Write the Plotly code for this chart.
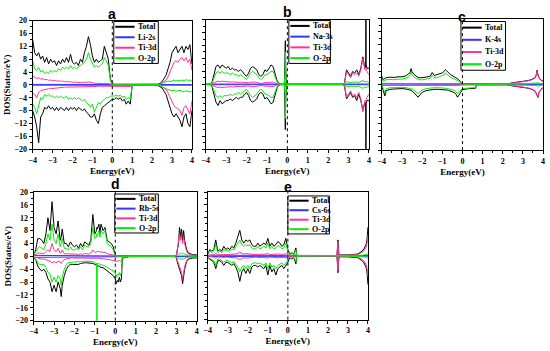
import plotly.graph_objects as go

# ---------------- data: energies (eV) and DOS (states/eV); spin-down stored negative ----------------
E_a = [-4.0,-3.9,-3.8,-3.7,-3.6,-3.5,-3.4,-3.3,-3.2,-3.1,
       -3.0,-2.9,-2.8,-2.7,-2.6,-2.5,-2.4,-2.3,-2.2,-2.1,
       -2.0,-1.9,-1.8,-1.7,-1.6,-1.5,-1.4,-1.3,-1.2,-1.1,
       -1.0,-0.9,-0.8,-0.7,-0.6,-0.5,-0.4,-0.3,-0.2,-0.1,
       0.0,0.1,0.2,0.3,0.4,0.5,0.6,0.7,0.8,0.9,
       1.0,
       2.3,2.4,2.5,2.6,2.7,2.8,2.9,3.0,3.1,3.2,
       3.3,3.4,3.5,3.6,3.7,3.8,3.9,4.0]
a_tot_up = [14,10,9,10,8,9,7,8.5,6.5,8,
            7,7.5,6,7.5,6.5,8,7,8.5,7,9.5,
            7,6.5,7,6,8,7,10,12,15,12.5,
            9,7,8,7,7.5,8,12,10,8,2,
            0.3,0.2,0.2,0.2,0.2,0.2,0.2,0.2,0.2,0.2,
            0.2,
            0.2,0.5,1,2,3,5,7,10,11,12,
            10,11,12,10,12,11,12.5,6.5]
a_tot_dn = [-8,-10,-13,-18,-10,-9,-7,-7.5,-6.5,-7.5,
            -7,-8,-7,-8,-7,-7.5,-8,-7,-8,-7,
            -7.5,-7,-8,-7,-7.5,-8,-7.5,-8.5,-9,-10,
            -10,-9,-11,-12,-9,-7,-6.5,-6,-5.5,-5,
            -4.5,-4.5,-4,-4.5,-4,-5,-4.5,-6,-5,-6,
            -0.2,
            -0.2,-0.5,-1,-2,-3,-5,-7,-9,-10,-9,
            -10,-11,-13,-10,-9,-12,-13,-8]
a_ti_up = [2.8,2.3,2,2.2,1.8,1.9,1.6,1.7,1.4,1.5,
           1.3,1.4,1.2,1.3,1.1,1.2,1.0,1.1,0.9,1.0,
           0.8,0.9,0.8,0.8,0.7,0.8,0.7,0.8,0.9,0.7,
           0.6,0.5,0.5,0.4,0.4,0.4,0.5,0.4,0.3,0.2,
           0.1,0.05,0.05,0.05,0.05,0.05,0.05,0.05,0.05,0.05,
           0.05,
           0.1,0.2,0.5,1,1.5,2.5,4,6,7,7.5,
           7,8,8.5,7.5,8.5,7,8,4.5]
a_ti_dn = [-2.5,-3,-4,-2.5,-1.8,-1.6,-1.4,-1.3,-1.2,-1.2,
           -1.1,-1.0,-0.9,-0.9,-0.8,-0.8,-0.7,-0.7,-0.7,-0.6,
           -0.6,-0.6,-0.5,-0.5,-0.5,-0.5,-0.5,-0.5,-0.5,-0.6,
           -0.5,-0.6,-0.5,-0.4,-0.4,-0.4,-0.4,-0.4,-0.4,-0.4,
           -0.4,-0.4,-0.4,-0.4,-0.4,-0.4,-0.4,-0.5,-0.5,-0.5,
           -0.05,
           -0.1,-0.3,-0.6,-1,-1.5,-2.5,-4,-5.5,-6.5,-7,
           -7.5,-8,-9.5,-7,-6.5,-8,-9,-5]
a_o_up = [7.5,5,4.5,5.5,4,4.5,3.5,4,3.5,4.5,
          4,4.5,4,5,4.5,5.5,5,5.5,5,6,
          5,5.5,5,5.5,6,6.5,7,8,10,8,
          6.5,5.5,6,5.5,6,6.5,8.5,7.5,6,1.5,
          0.1,0.05,0.05,0.05,0.05,0.05,0.05,0.05,0.05,0.05,
          0.05,
          0.1,0.3,0.5,0.8,1,1.2,1,1.3,1.5,1.2,
          1.4,1.2,1.5,1.3,1.6,1.4,1.5,1.2]
a_o_dn = [-6,-7,-9,-6,-4,-4.5,-3,-3.5,-3,-3.5,
          -3.5,-4,-3.5,-4,-3.5,-4,-4,-3.5,-4.5,-4,
          -4.5,-4,-4.5,-4,-4.5,-5,-4.5,-5.5,-6,-7,
          -6,-8.5,-7,-5.5,-6,-5,-4.5,-4,-4,-3.5,
          -3.5,-3.5,-3.2,-3.5,-3.2,-3.8,-3.5,-4.5,-4,-4.5,
          -0.1,
          -0.05,-0.3,-0.6,-1,-1.2,-1.5,-1.6,-1.8,-1.6,-2,
          -1.8,-1.7,-2,-2.2,-1.8,-1.9,-2.2,-2]

E_b = [-4.0,-3.8,-3.7,-3.6,-3.5,-3.4,-3.3,-3.2,-3.1,-3.0,
       -2.9,-2.8,-2.7,-2.6,-2.5,-2.4,-2.3,-2.2,-2.1,-2.0,
       -1.9,-1.8,-1.7,-1.6,-1.5,-1.4,-1.3,-1.2,-1.1,-1.0,
       -0.9,-0.8,-0.7,-0.6,-0.5,-0.4,-0.3,-0.15,-0.12,-0.1,
       -0.08,-0.05,0.0,1.0,2.7,2.8,2.9,3.0,3.1,3.2,
       3.3,3.4,3.5,3.6,3.7,3.8,3.84,3.85,3.86,3.9,
       4.0]
b_tot_up = [0,0,0.5,3,5.5,6,5,6,5.5,5,
            5.5,4.5,5,4.5,4.5,4,4.5,4,3,2.5,
            3.5,5,5.5,5,4.5,3,2.5,3,4.5,4,
            5,6,5.5,3,1,0.2,0,0,5,13.5,
            5,0.5,0,0,0,0.5,4.5,3.5,2.5,4,
            3.5,4.5,3,5,8.5,5,6,25,6,5,
            5]
b_tot_dn = [0,0,-0.5,-3,-5.5,-6.5,-5,-6,-5.5,-5,
            -5,-4.5,-5,-4.5,-4,-4.5,-4,-4,-3,-2.5,
            -3.5,-5,-5.5,-5,-4.5,-3,-2.5,-3,-4.5,-4,
            -5,-6,-5.5,-3,-1,-0.2,0,0,-5,-14,
            -5,-0.5,0,0,0,-0.5,-4.5,-3.5,-2.5,-4,
            -3.5,-5,-3,-5,-8,-5.5,-6,-25,-6,-5,
            -5]
b_ti_up = [0,0,0.1,0.5,0.8,1,0.8,1,0.9,0.8,
           0.9,0.7,0.8,0.7,0.7,0.6,0.7,0.6,0.5,0.4,
           0.5,0.7,0.8,0.7,0.6,0.4,0.3,0.4,0.6,0.5,
           0.6,0.8,0.7,0.4,0.1,0,0,0,0.3,0.8,
           0.3,0,0,0,0,0.3,4,3,2,3.5,
           3,3.5,2.5,4.5,8,4.5,5,5,5,4,
           3]
b_ti_dn = [0,0,-0.1,-0.5,-0.8,-1,-0.8,-1,-0.9,-0.8,
           -0.9,-0.7,-0.8,-0.7,-0.7,-0.6,-0.7,-0.6,-0.5,-0.4,
           -0.5,-0.7,-0.8,-0.7,-0.6,-0.4,-0.3,-0.4,-0.6,-0.5,
           -0.6,-0.8,-0.7,-0.4,-0.1,0,0,0,-0.3,-0.8,
           -0.3,0,0,0,0,-0.3,-4,-3,-2,-3.5,
           -3,-4,-2.5,-4.5,-8.5,-5,-5,-5,-5,-4,
           -3]
b_o_up = [0,0,0.3,2,3.5,4,3.5,4,3.5,3.5,
          3.5,3,3.5,3,3,2.5,3,2.5,2,1.5,
          2.5,3.5,4,3.5,3,2,1.5,2,3,3,
          3.5,4,4,2,0.6,0.1,0,0,3,10,
          3,0.2,0,0,0,0.1,0.8,0.6,0.5,0.7,
          0.6,0.8,0.5,0.9,1.2,0.8,1,1,1,0.8,
          0.7]
b_o_dn = [0,0,-0.3,-2,-3.5,-4,-3.5,-4,-3.5,-3.5,
          -3.5,-3,-3.5,-3,-3,-2.5,-3,-2.5,-2,-1.5,
          -2.5,-3.5,-4,-3.5,-3,-2,-1.5,-2,-3,-3,
          -3.5,-4,-4,-2,-0.6,-0.1,0,0,-3,-10.5,
          -3,-0.2,0,0,0,-0.1,-0.8,-0.6,-0.5,-0.7,
          -0.6,-0.8,-0.5,-0.9,-1.2,-0.8,-1,-1,-1,-0.8,
          -0.7]

E_c = [-4.0,-3.95,-3.9,-3.85,-3.8,-3.6,-3.4,-3.2,-3.0,-2.8,
       -2.7,-2.6,-2.55,-2.5,-2.4,-2.3,-2.2,-2.1,-2.0,-1.8,
       -1.6,-1.5,-1.4,-1.2,-1.0,-0.9,-0.85,-0.8,-0.7,-0.6,
       -0.4,-0.3,-0.25,-0.2,-0.1,-0.05,0.0,0.3,0.65,0.7,
       2.2,2.5,2.8,3.0,3.2,3.4,3.5,3.6,3.65,3.7,
       3.75,3.8,3.9,4.0]
c_tot_up = [2.5,1.5,1.6,1.8,2,2.2,2.1,2.3,2.3,2.6,
            3,3.6,4.8,3.8,3,2.5,2.1,2,2,2.2,
            2.5,3.6,2.7,3,3.5,4,4.5,4.2,3.5,3,
            2.3,2,1.8,1.5,0.8,0.3,0.1,0.1,0.1,0.1,
            0.1,0.5,0.7,0.9,1.1,1.4,1.7,2,2.6,4.3,
            3,2,1.3,1]
c_tot_dn = [-0.5,-1.5,-2.5,-3.5,-2,-1.5,-1.4,-1.3,-1.3,-1.4,
            -1.5,-1.7,-1.8,-2,-2.5,-3.2,-3.9,-3,-2.4,-1.9,
            -1.6,-1.6,-1.5,-1.5,-1.5,-1.6,-1.6,-1.7,-1.8,-2,
            -2.5,-3.2,-3.9,-3.5,-2.6,-2,-1.6,-1.3,-1.2,-0.1,
            -0.1,-0.5,-0.7,-0.9,-1.1,-1.4,-1.7,-2,-2.6,-3.5,
            -4,-2.5,-1.5,-1]
c_ti_up = [0.4,0.3,0.3,0.3,0.3,0.3,0.3,0.3,0.3,0.3,
           0.3,0.3,0.4,0.3,0.3,0.3,0.3,0.3,0.3,0.3,
           0.3,0.3,0.3,0.3,0.3,0.3,0.3,0.3,0.3,0.3,
           0.3,0.3,0.3,0.2,0.1,0.05,0.02,0.02,0.02,0.02,
           0.05,0.4,0.6,0.8,1,1.3,1.6,1.9,2.5,4,
           2.8,1.8,1.2,0.9]
c_ti_dn = [-0.3,-0.3,-0.4,-0.5,-0.3,-0.3,-0.3,-0.3,-0.3,-0.3,
           -0.3,-0.3,-0.3,-0.3,-0.3,-0.3,-0.4,-0.3,-0.3,-0.3,
           -0.3,-0.3,-0.3,-0.3,-0.3,-0.3,-0.3,-0.3,-0.3,-0.3,
           -0.3,-0.3,-0.3,-0.3,-0.2,-0.1,-0.05,-0.05,-0.05,-0.02,
           -0.05,-0.4,-0.6,-0.8,-1,-1.3,-1.6,-1.9,-2.4,-3.2,
           -3.8,-2.3,-1.4,-0.9]
c_o_up = [2,1,1.1,1.2,1.4,1.5,1.4,1.6,1.6,1.9,
          2.2,2.8,3.8,3,2.2,1.8,1.5,1.4,1.4,1.5,
          1.8,2.7,2,2.2,2.6,3,3.5,3.2,2.6,2.2,
          1.6,1.4,1.2,1,0.5,0.2,0.05,0.05,0.05,0.05,
          0.05,0.1,0.15,0.2,0.25,0.3,0.35,0.4,0.5,0.6,
          0.5,0.4,0.3,0.2]
c_o_dn = [-0.3,-1,-1.8,-2.5,-1.4,-1,-1,-0.9,-0.9,-1,
          -1.1,-1.2,-1.3,-1.4,-1.8,-2.3,-2.8,-2.2,-1.7,-1.3,
          -1.1,-1.1,-1,-1,-1,-1.1,-1.1,-1.2,-1.3,-1.4,
          -1.8,-2.3,-2.8,-2.5,-1.9,-1.5,-1.3,-1.1,-1.0,-0.05,
          -0.05,-0.1,-0.15,-0.2,-0.25,-0.3,-0.35,-0.4,-0.5,-0.6,
          -0.6,-0.5,-0.3,-0.2]

E_d = [-4.0,-3.9,-3.8,-3.7,-3.6,-3.5,-3.4,-3.3,-3.2,-3.1,
       -3.0,-2.9,-2.8,-2.7,-2.65,-2.6,-2.5,-2.4,-2.3,-2.2,
       -2.1,-2.0,-1.9,-1.8,-1.7,-1.6,-1.5,-1.4,-1.3,-1.2,
       -1.1,-1.0,-0.92,-0.9,-0.88,-0.8,-0.75,-0.7,-0.6,-0.5,
       -0.4,-0.3,-0.2,-0.1,0.0,0.05,0.1,0.15,0.2,0.25,
       0.3,0.35,0.6,0.65,2.9,3.0,3.05,3.1,3.15,3.2,
       3.25,3.3,3.35,3.4,3.5,3.6,3.8,4.0]
d_tot_up = [0.5,2,5.5,5.5,5,4,7,12,8,17,
            9,7,11,5,6,8.5,4,4,3,4.5,
            3.5,3,3.5,2.5,4,3,4.5,4,3.5,5,
            13,7,8,9,8.5,10,7,10,8,9,
            5,4.5,4,3,0.3,0.1,0.1,0.1,0.1,0.1,
            0.1,0.1,0.1,0.1,0.1,0.5,3,4,9,6,
            8.5,5,8,5,2,1,0.5,0.5]
d_tot_dn = [-0.5,-1,-3,-4,-4.5,-4,-5,-7,-8,-11,
            -9,-11,-8,-10,-12.5,-9,-6,-4,-3,-2.5,
            -2.5,-2.5,-2.5,-2.5,-2.2,-2,-2,-2,-2,-2,
            -2.2,-2.5,-3,-3,-3,-3,-3.2,-3.5,-3.5,-4,
            -4.5,-5,-5.5,-6,-7,-8.5,-7.5,-8,-6.5,-8,
            -7,-0.5,-0.3,0,0,-0.5,-2,-3,-4,-5,
            -6,-8.5,-6,-4,-1.5,-0.8,-0.5,-0.5]
d_ti_up = [0.2,0.5,1,1,1,0.8,1.5,2,1.5,4,
           2,1.5,2.5,1,1.2,2,0.8,0.8,0.6,0.8,
           0.7,0.6,0.7,0.5,0.8,0.6,0.9,0.8,0.7,1,
           2,1.2,1.3,1.5,1.4,1.6,1.2,1.5,1.2,1.3,
           0.8,0.7,0.6,0.4,0.05,0.02,0.02,0.02,0.02,0.02,
           0.02,0.02,0.02,0.02,0.02,0.3,2.5,3.5,7,5,
           6.5,4,6,4,1.5,0.7,0.3,0.3]
d_ti_dn = [-0.1,-0.3,-0.6,-0.8,-0.9,-0.8,-1,-1.3,-1.5,-2,
           -1.6,-2,-1.5,-1.8,-2.2,-1.6,-1,-0.8,-0.6,-0.5,
           -0.5,-0.5,-0.5,-0.5,-0.4,-0.4,-0.4,-0.4,-0.4,-0.4,
           -0.4,-0.5,-0.6,-0.6,-0.6,-0.6,-0.6,-0.7,-0.7,-0.8,
           -0.9,-1,-1.1,-1.2,-1.4,-1.6,-1.5,-1.6,-1.3,-1.6,
           -1.4,-0.3,-0.3,0,0,-0.4,-1.6,-2.5,-3.2,-4,
           -5,-7,-5,-3.2,-1.2,-0.6,-0.3,-0.3]
d_o_up = [0.5,1.5,2.5,3,2.5,2,4,7,5,10,
          5,4,7,3,4,5.5,2.5,2.5,2,3,
          2,2,2.5,2,3,2,3.5,3,3,4,
          9,5.5,6,7,6.5,8,6,8,7,8,
          4,3.5,3,2,0.2,0.05,0.05,0.05,0.05,0.05,
          0.05,0.05,0.05,0.05,0.05,0.2,0.5,0.8,1,0.8,
          1,0.8,1,0.8,0.4,0.2,0.1,0.1]
d_o_dn = [-0.3,-0.8,-2,-2.5,-2.5,-2.5,-3.5,-5,-5.5,-8,
          -6.5,-8,-6,-7,-9,-6.5,-4,-2.5,-2,-1.8,
          -1.8,-1.8,-1.8,-1.8,-1.6,-1.5,-1.5,-1.5,-1.5,-1.5,
          -1.6,-2,-2.2,-25,-2.2,-2.3,-2.5,-2.7,-2.7,-3,
          -3.5,-3.8,-4.2,-4.5,-5.2,-6.5,-5.5,-6,-5,-6,
          -5,-0.3,-0.1,0,0,-0.2,-0.4,-0.6,-0.8,-0.8,
          -1,-1,-0.8,-0.6,-0.3,-0.2,-0.1,-0.1]

E_e = [-4.0,-3.9,-3.8,-3.7,-3.6,-3.5,-3.4,-3.3,-3.2,-3.1,
       -3.0,-2.9,-2.8,-2.7,-2.6,-2.5,-2.4,-2.3,-2.2,-2.1,
       -2.0,-1.9,-1.8,-1.7,-1.6,-1.5,-1.4,-1.3,-1.2,-1.1,
       -1.0,-0.9,-0.8,-0.7,-0.6,-0.5,-0.4,-0.3,-0.2,-0.1,
       0.0,0.1,0.2,0.3,0.4,0.45,2.45,2.48,2.5,2.52,
       2.55,3.0,3.5,3.7,3.8,3.9,3.95,4.0]
e_tot_up = [0.5,2,1.5,2,5,1.5,2,1.5,3,2,
            2.5,2,3,2.5,4,6,8,5,4,5,
            4.5,5,3.5,3,3,4,3,3.5,4,3.5,
            5.5,3,4,3,3.5,4.5,4,3,3.5,5.5,
            2,0.5,1,0.5,2.5,0,0.1,3,5,3,
            0.3,0.3,0.6,1.5,2.2,3.5,5,9]
e_tot_dn = [-0.5,-1,-1.5,-2,-4,-1.5,-1.5,-2,-3,-2,
            -2,-2.5,-3,-2.5,-3.5,-5,-8,-5,-4,-5.5,
            -4,-5.5,-3.5,-3,-3,-3.5,-3,-3.5,-4,-3,
            -6,-3,-5,-4,-6,-4,-3.5,-3,-4,-3,
            -2,-0.5,-1,-0.5,-2.5,0,-0.1,-3,-5.3,-3,
            -0.3,-0.3,-0.6,-1.5,-2.2,-3.5,-5,-9]
e_ti_up = [0.1,0.3,0.3,0.4,0.8,0.3,0.4,0.3,0.5,0.4,
           0.4,0.4,0.5,0.5,0.6,0.8,1.2,0.8,0.6,0.7,
           0.6,0.7,0.5,0.4,0.4,0.5,0.4,0.5,0.5,0.5,
           0.7,0.4,0.5,0.4,0.5,0.6,0.5,0.4,0.5,0.7,
           0.3,0.1,0.1,0.1,0.3,0,0.1,2.5,4.5,2.5,
           0.2,0.2,0.4,1.1,1.6,2.6,3.8,6.5]
e_ti_dn = [-0.1,-0.3,-0.3,-0.4,-0.8,-0.3,-0.4,-0.3,-0.5,-0.4,
           -0.4,-0.4,-0.5,-0.5,-0.6,-0.8,-1.2,-0.8,-0.6,-0.7,
           -0.6,-0.7,-0.5,-0.4,-0.4,-0.5,-0.4,-0.5,-0.5,-0.5,
           -0.7,-0.4,-0.5,-0.4,-0.5,-0.6,-0.5,-0.4,-0.5,-0.7,
           -0.3,-0.1,-0.1,-0.1,-0.3,0,-0.1,-2.5,-4.8,-2.5,
           -0.2,-0.2,-0.4,-1.1,-1.6,-2.6,-3.8,-6.5]
e_o_up = [0.4,1.5,1,1.5,3.5,1,1.5,1,2,1.5,
          1.8,1.5,2.2,1.8,3,4,5,3.5,3,3.5,
          3.2,3.5,2.5,2.2,2.2,3,2.2,2.5,3,2.5,
          4,2.2,3,2.2,2.5,3.2,3,2.2,2.5,4,
          1.5,0.4,0.7,0.4,1.8,0,0.02,0.1,0.2,0.1,
          0.02,0.05,0.1,0.2,0.3,0.4,0.5,0.8]
e_o_dn = [-0.4,-0.8,-1,-1.5,-3,-1,-1,-1.5,-2,-1.5,
          -1.5,-1.8,-2.2,-1.8,-2.5,-3.5,-5,-3.5,-3,-4,
          -3,-4,-2.5,-2.2,-2.2,-2.5,-2.2,-2.5,-3,-2.2,
          -4,-2.2,-3.5,-3,-4,-3,-2.5,-2.2,-3,-2.2,
          -1.5,-0.4,-0.7,-0.4,-1.8,0,-0.02,-0.1,-0.2,-0.1,
          -0.02,-0.05,-0.1,-0.2,-0.3,-0.4,-0.5,-0.8]

# alkali s-states (nearly zero everywhere)
E_s = [-4.0, -2.0, 0.0, 2.0, 4.0]
s_up = {"a": [0.15, 0.1, 0.05, 0.05, 0.1], "b": [0.1, 0.1, 0.05, 0.05, 0.1],
        "c": [0.2, 0.15, 0.05, 0.05, 0.1], "d": [0.3, 0.2, 0.05, 0.05, 0.1],
        "e": [0.2, 0.2, 0.05, 0.05, 0.1]}
s_dn = {"a": [-0.1, -0.1, -0.05, -0.05, -0.1], "b": [-0.1, -0.1, -0.05, -0.05, -0.1],
        "c": [-0.2, -0.15, -0.05, -0.05, -0.1], "d": [-0.3, -0.2, -0.05, -0.05, -0.1],
        "e": [-0.2, -0.2, -0.05, -0.05, -0.1]}

s_names = {"a": "Li-2s", "b": "Na-3s", "c": "K-4s", "d": "Rb-5s", "e": "Cs-6s"}
panel_data = {
    "a": (E_a, a_tot_up, a_tot_dn, a_ti_up, a_ti_dn, a_o_up, a_o_dn),
    "b": (E_b, b_tot_up, b_tot_dn, b_ti_up, b_ti_dn, b_o_up, b_o_dn),
    "c": (E_c, c_tot_up, c_tot_dn, c_ti_up, c_ti_dn, c_o_up, c_o_dn),
    "d": (E_d, d_tot_up, d_tot_dn, d_ti_up, d_ti_dn, d_o_up, d_o_dn),
    "e": (E_e, e_tot_up, e_tot_dn, e_ti_up, e_ti_dn, e_o_up, e_o_dn),
}

# ---------------- layout geometry (pixels of a 550x351 canvas) ----------------
W, H = 550, 351
boxes = {  # left, right, top, bottom
    "a": (29, 190, 17, 149),
    "b": (204, 369, 16, 149),
    "c": (382, 545, 15, 150),
    "d": (30, 195, 193, 325),
    "e": (206, 368, 193, 324),
}
legbox = {  # left, top, right, bottom
    "a": (111, 18, 156, 61), "b": (288, 17, 330, 61), "c": (462, 18, 507, 68),
    "d": (112, 195, 156, 235), "e": (287, 197, 329, 236)}
titlepos = {"a": 10, "b": 8, "c": 13, "d": 185, "e": 188}

C_TOT, C_S, C_TI, C_O = "#000000", "#3333ff", "#ff3399", "#00ee00"
serif = "Liberation Serif"
tickfont = dict(family=serif, size=8, color="black", weight="bold")
titlefont = dict(family=serif, size=9, color="black", weight="bold")
legfont = dict(family=serif, size=8, color="black", weight="bold")


def px(x):
    return x / W


def py(y):
    return 1 - y / H


fig = go.Figure()
layout = dict(width=W, height=H, margin=dict(l=0, r=0, t=0, b=0),
              paper_bgcolor="white", plot_bgcolor="white", showlegend=False)
shapes, annotations = [], []

for i, key in enumerate(["a", "b", "c", "d", "e"]):
    n = "" if i == 0 else str(i + 1)
    xa, ya = "x" + n, "y" + n
    E, tu, td, tiu, tid, ou, od = panel_data[key]
    series = [
        ("Total", C_TOT, E, tu, td),
        (s_names[key], C_S, E_s, s_up[key], s_dn[key]),
        ("Ti-3d", C_TI, E, tiu, tid),
        ("O-2p", C_O, E, ou, od),
    ]
    for name, col, xs, up, dn in series:
        fig.add_trace(go.Scatter(
            x=list(xs) + [None] + list(xs), y=list(up) + [None] + list(dn),
            mode="lines", name=name, line=dict(color=col, width=1),
            xaxis=xa, yaxis=ya, connectgaps=False))
    l, r, t, b = boxes[key]
    layout["xaxis" + n] = dict(
        domain=[px(l), px(r)], anchor=ya, range=[-4, 4], tick0=-4, dtick=1,
        ticks="outside", ticklen=3, tickwidth=1, tickcolor="black",
        showline=True, linecolor="black", linewidth=1, mirror=True,
        showgrid=False, zeroline=False, tickfont=tickfont,
        minor=dict(ticks="outside", ticklen=2, dtick=0.5, tickcolor="black"),
        title=dict(text="Energy(eV)", font=titlefont, standoff=3))
    ydict = dict(
        domain=[py(b), py(t)], anchor=xa, range=[-20, 20], tick0=-20, dtick=4,
        ticks="outside", ticklen=3, tickwidth=1, tickcolor="black",
        showline=True, linecolor="black", linewidth=1, mirror=True,
        showgrid=False, zeroline=False, tickfont=tickfont,
        minor=dict(ticks="outside", ticklen=2, dtick=2, tickcolor="black"),
        showticklabels=key in ("a", "d"))
    if key in ("a", "d"):
        ydict["title"] = dict(text="DOS(States/eV)", font=titlefont, standoff=2)
    layout["yaxis" + n] = ydict

    # legend box drawn by hand (compact, like the original)
    bl, bt, br, bb = legbox[key]
    shapes.append(dict(type="rect", xref="paper", yref="paper",
                       x0=px(bl), x1=px(br), y0=py(bb), y1=py(bt),
                       line=dict(color="black", width=1), fillcolor="white", layer="above"))
    for k, (name, col, *_rest) in enumerate(series):
        yy = bt + (bb - bt) * (k + 0.5) / 4
        shapes.append(dict(type="line", xref="paper", yref="paper",
                           x0=px(bl + 1.5), x1=px(bl + 21), y0=py(yy), y1=py(yy),
                           line=dict(color=col, width=2), layer="above"))
        annotations.append(dict(text=name, xref="paper", yref="paper", x=px(bl + 22), y=py(yy),
                                xanchor="left", yanchor="middle", showarrow=False,
                                font=legfont))

    shapes.append(dict(type="line", xref=xa, x0=0, x1=0, yref=ya + " domain", y0=0, y1=1,
                       line=dict(color="black", width=1, dash="dot"), layer="above"))
    annotations.append(dict(text="<b>%s</b>" % key, xref=xa, x=0, yref="paper",
                            y=py(titlepos[key]), showarrow=False, xanchor="center",
                            yanchor="middle",
                            font=dict(family="Liberation Sans", size=14, color="black")))

layout["shapes"] = shapes
layout["annotations"] = annotations
fig.update_layout(**layout)
fig.write_html("out.html", config={"displayModeBar": False},
               post_script="document.body.style.margin='0px';")
